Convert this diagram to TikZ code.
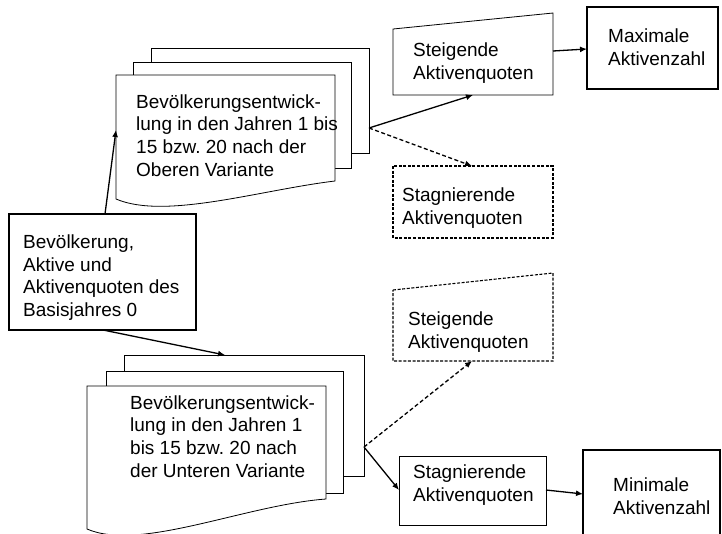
\documentclass[tikz,border=0pt]{standalone}
\usepackage{fontspec}
\setmainfont{Liberation Sans}
\usetikzlibrary{arrows.meta}
\begin{document}
\frenchspacing
\begin{tikzpicture}[x=1pt,y=-1pt,
  txt/.style={font=\fontsize{19}{22.7}\selectfont, align=left, inner sep=0pt, anchor=west},
  sheet/.style={draw=black, line width=0.8pt, fill=white},
  boldbox/.style={draw=black, line width=1.6pt, fill=white},
  basebox/.style={draw=black, line width=1.4pt, fill=white},
  dsh/.style={draw=black, line width=1.1pt, dash pattern=on 3pt off 1.6pt, fill=white},
  arr/.style={-{Latex[length=7pt,width=6pt]}, line width=1.3pt},
  darr/.style={arr, dash pattern=on 4pt off 2.5pt}]
\useasboundingbox (0,0) rectangle (722,533);
\clip (0,0) rectangle (722,533);

% upper stack
\draw[sheet] (151,48) rectangle (369,153);
\draw[sheet] (133,62) rectangle (351,168);
\draw[sheet] (116,75) -- (335,75) -- (335,181) .. controls (260,190) and (165,220) .. (116,199) -- cycle;
\node[txt] (upper) at (136,135.5) {Bevölkerungsentwick-\\lung in den Jahren 1 bis\\15 bzw. 20 nach der\\Oberen Variante};
\coordinate (uA) at (369,128);
\coordinate (uIn) at (116,130);

% lower stack
\draw[sheet] (124,355) rectangle (364,476);
\draw[sheet] (106,371) rectangle (343,493);
\draw[sheet] (87,386) -- (326,386) -- (326,499) .. controls (245,505) and (140,552) .. (87,529) -- cycle;
\node[txt] (lower) at (130,436.5) {Bevölkerungsentwick-\\lung in den Jahren 1\\bis 15 bzw. 20 nach\\der Unteren Variante};
\coordinate (lA) at (364,447);
\coordinate (lIn) at (225,355);

% base box
\draw[basebox] (9,214) rectangle (196,330);
\node[txt] (base) at (23,277.5) {Bevölkerung,\\Aktive und\\Aktivenquoten des\\Basisjahres 0};
\coordinate (bTop) at (105,214);
\coordinate (bBot) at (103,330);

% upper Steigende
\draw[sheet] (393,29) -- (553,13) -- (553,95) -- (393,95) -- cycle;
\node[txt] (st1) at (413,63) {Steigende\\Aktivenquoten};
\coordinate (st1B) at (473,95);
\coordinate (st1R) at (553,51);

% upper Stagnierende (dashed)
\draw[dsh] (393,166) rectangle (553,238);
\node[txt] (sg1) at (402,208) {Stagnierende\\Aktivenquoten};
\coordinate (sg1T) at (472,166);

% Maximale
\draw[boldbox] (587,7) rectangle (718,89);
\node[txt] (max) at (608,47.5) {Maximale\\Aktivenzahl};
\coordinate (maxL) at (587,49);

% lower Steigende (dashed)
\draw[dsh] (393,290) -- (553,273) -- (553,361) -- (393,361) -- cycle;
\node[txt] (st2) at (408,332) {Steigende\\Aktivenquoten};
\coordinate (st2B) at (472,361);

% lower Stagnierende
\draw[sheet] (399,456) rectangle (546,525);
\node[txt] (sg2) at (413,485) {Stagnierende\\Aktivenquoten};
\coordinate (sg2L) at (399,490);
\coordinate (sg2R) at (546,490);

% Minimale
\draw[boldbox] (583,450) rectangle (720,560);
\node[txt] (min) at (613,496) {Minimale\\Aktivenzahl};
\coordinate (minL) at (583,494);

% connectors
\draw[arr] (bTop) -- (uIn);
\draw[arr] (bBot) -- (lIn);
\draw[arr] (uA) -- (st1B);
\draw[darr] (uA) -- (sg1T);
\draw[arr] (st1R) -- (maxL);
\draw[darr] (lA) -- (st2B);
\draw[arr] (lA) -- (sg2L);
\draw[arr] (sg2R) -- (minL);
\end{tikzpicture}
\end{document}
